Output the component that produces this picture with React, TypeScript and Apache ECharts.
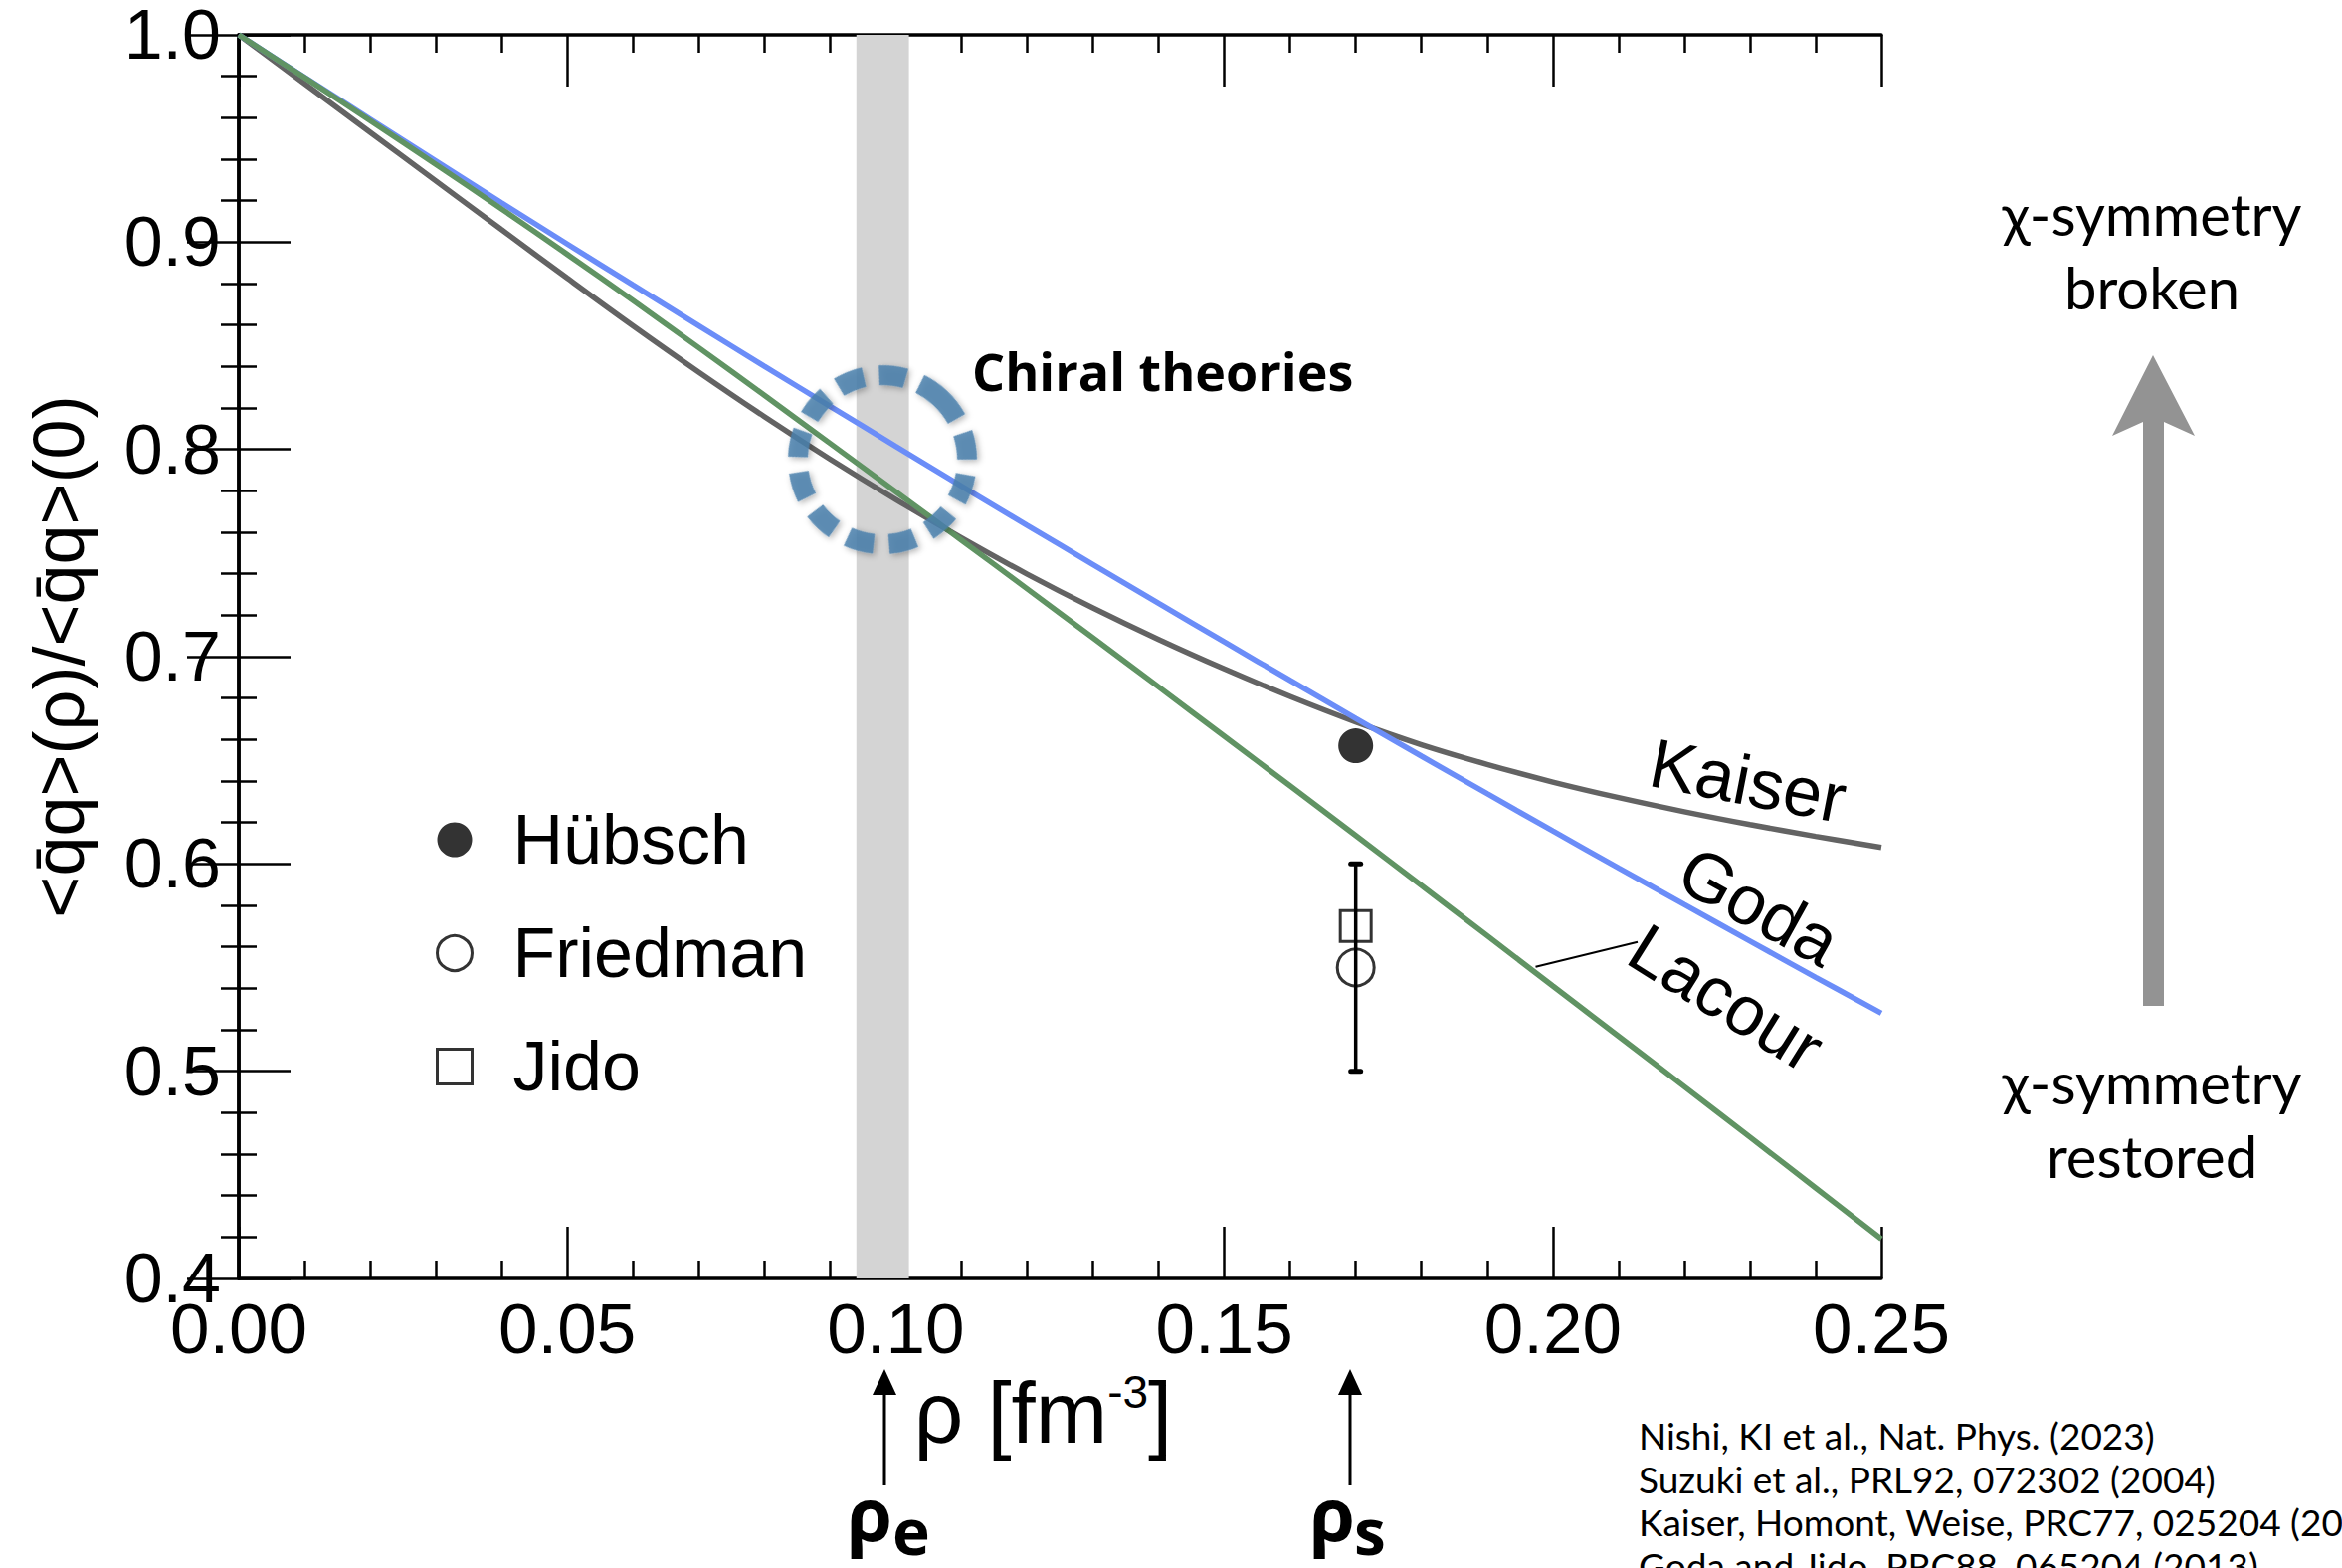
import React, { useEffect, useRef } from "react";
import * as echarts from "echarts";

// ---- data ----
const RHO = [0, 0.01, 0.02, 0.03, 0.04, 0.05, 0.06, 0.07, 0.08, 0.09, 0.1, 0.11, 0.12, 0.13, 0.14, 0.15, 0.16, 0.17, 0.18, 0.19, 0.2, 0.21, 0.22, 0.23, 0.24, 0.25];
const KAISER = [1.0, 0.9765, 0.953, 0.9295, 0.906, 0.8826, 0.8596, 0.8373, 0.8158, 0.7953, 0.7758, 0.7573, 0.7398, 0.7235, 0.7083, 0.6941, 0.6808, 0.6685, 0.6575, 0.648, 0.6395, 0.632, 0.6252, 0.619, 0.6133, 0.608];
const GODA = [1.0, 0.9796, 0.9593, 0.9391, 0.919, 0.8991, 0.8793, 0.8597, 0.8401, 0.8208, 0.8015, 0.7823, 0.7633, 0.7445, 0.7257, 0.7071, 0.6886, 0.6702, 0.652, 0.6339, 0.6159, 0.5981, 0.5804, 0.5628, 0.5453, 0.528];
const LACOUR = [1.0, 0.9794, 0.9586, 0.9375, 0.916, 0.8941, 0.8718, 0.8491, 0.8261, 0.8029, 0.7796, 0.7562, 0.7327, 0.7091, 0.6854, 0.6616, 0.6377, 0.6137, 0.5896, 0.5654, 0.5411, 0.5169, 0.4926, 0.4682, 0.4437, 0.4191];
const HUBSCH = [[0.17, 0.657]];
const FRIEDMAN = [[0.17, 0.55]];
const FRIEDMAN_ERR = [[0.17, 0.5, 0.6]];
const JIDO = [[0.17, 0.57]];
const BAND = [0.094, 0.102];
const X_TICK_DECIMALS = 2;
const Y_TICK_DECIMALS = 1;
const REFERENCES = [
  "Nishi, KI et al., Nat. Phys. (2023)",
  "Suzuki et al., PRL92, 072302 (2004)",
  "Kaiser, Homont, Weise, PRC77, 025204 (2008)",
  "Goda and Jido, PRC88, 065204 (2013)",
];

const FONT = "'Liberation Sans', Arial, Helvetica, sans-serif";
const GILL = "Lato, 'Open Sans', sans-serif";
const BOLD = "'Open Sans', 'Noto Sans', sans-serif";

const pairs = (ys: number[]) => RHO.map((x, i) => [x, ys[i]]);
const deg = (d: number) => (d * Math.PI) / 180;

function axisCommon(showLabel: boolean) {
  return {
    axisLine: { show: true, lineStyle: { color: "#000", width: 3.5 } },
    axisTick: { show: true, inside: true, length: 52, lineStyle: { color: "#000", width: 2.5 } },
    minorTick: { show: true, splitNumber: 5, length: 18, lineStyle: { color: "#000", width: 2.5 } },
    splitLine: { show: false },
    minorSplitLine: { show: false },
    axisLabel: { show: showLabel },
  };
}

const centered = { align: "center", verticalAlign: "middle", textAlign: "center", textVerticalAlign: "middle" };
const leftMid = { align: "left", verticalAlign: "middle", textAlign: "left", textVerticalAlign: "middle" };

export default function App() {
  const ref = useRef<HTMLDivElement>(null);
  useEffect(() => {
    document.body.style.margin = "0";
    const chart = echarts.init(ref.current!, null, { renderer: "svg" });
    const xBase = { type: "value", min: 0, max: 0.25, interval: 0.05 };
    const yBase = { type: "value", min: 0.4, max: 1.0, interval: 0.1 };
    const option: any = {
      animation: false,
      backgroundColor: "#fff",
      textStyle: { fontFamily: FONT },
      grid: { left: 240, top: 35, width: 1651, height: 1250 },
      legend: {
        orient: "vertical",
        left: 433,
        top: 799,
        itemWidth: 35,
        itemHeight: 35,
        itemGap: 34,
        selectedMode: false,
        textStyle: { fontSize: 70, color: "#000", fontFamily: FONT, lineHeight: 80, padding: [0, 0, 0, 36] },
        data: [
          { name: "Hübsch", icon: "circle", itemStyle: { color: "#000", borderWidth: 0 } },
          { name: "Friedman", icon: "circle", itemStyle: { color: "#fff", borderColor: "#000", borderWidth: 3 } },
          { name: "Jido", icon: "rect", itemStyle: { color: "#fff", borderColor: "#000", borderWidth: 3 } },
        ],
      },
      xAxis: [
        {
          ...xBase,
          ...axisCommon(true),
          position: "bottom",
          axisLabel: {
            show: true,
            fontSize: 71,
            color: "#000",
            fontFamily: FONT,
            margin: 15,
            formatter: (v: number) => v.toFixed(X_TICK_DECIMALS),
          },
          name: "{a|\u03c1 [fm}{s|-3}{a|]}",
          nameLocation: "middle",
          nameGap: 78,
          nameTextStyle: {
            padding: [0, 34, 0, 0],
            rich: {
              a: { fontSize: 87, fontFamily: FONT, color: "#000", lineHeight: 87 },
              s: { fontSize: 46, fontFamily: FONT, color: "#000", verticalAlign: "top", lineHeight: 46 },
            },
          },
        },
        { ...xBase, ...axisCommon(false), position: "top" },
      ],
      yAxis: [
        {
          ...yBase,
          ...axisCommon(true),
          position: "left",
          axisLabel: {
            show: true,
            fontSize: 70,
            color: "#000",
            fontFamily: FONT,
            margin: 18,
            formatter: (v: number) => v.toFixed(Y_TICK_DECIMALS),
          },
          name: "<q\u0304q>(\u03c1)/<q\u0304q>(0)",
          nameLocation: "middle",
          nameGap: 145,
          nameTextStyle: { fontSize: 72, color: "#000", fontFamily: FONT },
        },
        { ...yBase, ...axisCommon(false), position: "right" },
      ],
      series: [
        {
          type: "line",
          name: "band",
          data: [],
          z: 1,
          markArea: {
            silent: true,
            itemStyle: { color: "#d4d4d4" },
            data: [[{ xAxis: BAND[0] }, { xAxis: BAND[1] }]],
          },
        },
        {
          type: "line", name: "Kaiser", data: pairs(KAISER), smooth: 0.4, showSymbol: false, z: 3,
          lineStyle: { color: "#636363", width: 5.5 },
        },
        {
          type: "line", name: "Goda", data: pairs(GODA), smooth: 0.4, showSymbol: false, z: 3,
          lineStyle: { color: "#6b8df8", width: 5.5 },
        },
        {
          type: "line", name: "Lacour", data: pairs(LACOUR), smooth: 0.4, showSymbol: false, z: 3,
          lineStyle: { color: "#609363", width: 5.5 },
        },
        {
          type: "custom",
          name: "err",
          data: FRIEDMAN_ERR,
          encode: { x: 0, y: [1, 2] },
          z: 4,
          renderItem: (params: any, api: any) => {
            const x = api.value(0);
            const lo = api.coord([x, api.value(1)]);
            const hi = api.coord([x, api.value(2)]);
            const st = { stroke: "#000", lineWidth: 3.5 };
            const cap = { stroke: "#000", lineWidth: 5, lineCap: "round" };
            return {
              type: "group",
              children: [
                { type: "line", shape: { x1: lo[0], y1: lo[1], x2: hi[0], y2: hi[1] }, style: st },
                { type: "line", shape: { x1: lo[0] - 5, y1: lo[1], x2: lo[0] + 5, y2: lo[1] }, style: cap },
                { type: "line", shape: { x1: hi[0] - 5, y1: hi[1], x2: hi[0] + 5, y2: hi[1] }, style: cap },
              ],
            };
          },
        },
        {
          type: "scatter", name: "Hübsch", data: HUBSCH, symbol: "circle", symbolSize: 35, z: 5,
          itemStyle: { color: "#000" },
        },
        {
          type: "scatter", name: "Friedman", data: FRIEDMAN, symbol: "circle", symbolSize: 37, z: 5,
          itemStyle: { color: "rgba(255,255,255,0)", borderColor: "#000", borderWidth: 3 },
        },
        {
          type: "scatter", name: "Jido", data: JIDO, symbol: "rect", symbolSize: 31, z: 5,
          itemStyle: { color: "rgba(255,255,255,0)", borderColor: "#000", borderWidth: 3 },
        },
      ],
      graphic: [
        // dashed "chiral theories" circle
        {
          type: "circle",
          x: 887,
          y: 462,
          rotation: deg(47),
          shape: { cx: 0, cy: 0, r: 85 },
          style: {
            fill: "none",
            stroke: "#4a80ad",
            lineWidth: 20,
            lineDash: [27, 15.4],
            opacity: 0.85,
            shadowBlur: 6,
            shadowOffsetY: 3,
            shadowColor: "rgba(0,0,0,0.35)",
          },
          z: 10,
        },
        {
          type: "text",
          x: 977,
          y: 372,
          style: { text: "Chiral theories", fontSize: 52, fontWeight: "bold", fontFamily: BOLD, fill: "#000", ...leftMid },
        },
        // curve labels
        { type: "text", x: 1757, y: 785, rotation: deg(-11), style: { text: "Kaiser", fontSize: 70, fontFamily: FONT, fill: "#000", ...centered } },
        { type: "text", x: 1768, y: 911, rotation: deg(-29), style: { text: "Goda", fontSize: 70, fontFamily: FONT, fill: "#000", ...centered } },
        { type: "text", x: 1735, y: 1003, rotation: deg(-32), style: { text: "Lacour", fontSize: 70, fontFamily: FONT, fill: "#000", ...centered } },
        {
          type: "line",
          shape: { x1: 1543.5, y1: 971.7, x2: 1646, y2: 946.7 },
          style: { stroke: "#000", lineWidth: 2 },
        },
        // arrows under the x axis
        { type: "line", shape: { x1: 889, y1: 1398, x2: 889, y2: 1493 }, style: { stroke: "#000", lineWidth: 3 } },
        { type: "polygon", shape: { points: [[889, 1376], [877, 1402], [901, 1402]] }, style: { fill: "#000" } },
        { type: "line", shape: { x1: 1357, y1: 1398, x2: 1357, y2: 1493 }, style: { stroke: "#000", lineWidth: 3 } },
        { type: "polygon", shape: { points: [[1357, 1376], [1345, 1402], [1369, 1402]] }, style: { fill: "#000" } },
        { type: "text", x: 874, y: 1520, style: { text: "\u03c1", fontSize: 74, fontWeight: "bold", fontFamily: BOLD, fill: "#000", ...centered } },
        { type: "text", x: 897, y: 1538, style: { text: "e", fontSize: 64, fontWeight: "bold", fontFamily: BOLD, fill: "#000", ...leftMid } },
        { type: "text", x: 1339, y: 1520, style: { text: "\u03c1", fontSize: 74, fontWeight: "bold", fontFamily: BOLD, fill: "#000", ...centered } },
        { type: "text", x: 1361, y: 1538, style: { text: "s", fontSize: 64, fontWeight: "bold", fontFamily: BOLD, fill: "#000", ...leftMid } },
        // right side: symmetry arrow
        {
          type: "polygon",
          shape: { points: [[2164, 357], [2206, 438], [2175, 424], [2175, 1011], [2154, 1011], [2154, 424], [2123, 438]] },
          style: { fill: "#939393" },
        },
        {
          type: "text", x: 2163, y: 177,
          style: { text: "\u03c7-symmetry\nbroken", fontSize: 58, lineHeight: 74, fontFamily: GILL, fill: "#000", align: "center", verticalAlign: "top", textAlign: "center", textVerticalAlign: "top" },
        },
        {
          type: "text", x: 2163, y: 1050,
          style: { text: "\u03c7-symmetry\nrestored", fontSize: 58, lineHeight: 74, fontFamily: GILL, fill: "#000", align: "center", verticalAlign: "top", textAlign: "center", textVerticalAlign: "top" },
        },
        // references
        {
          type: "text", x: 1647, y: 1421,
          style: { text: REFERENCES.join("\n"), fontSize: 37, lineHeight: 43.5, fontFamily: GILL, fill: "#000", align: "left", verticalAlign: "top", textAlign: "left", textVerticalAlign: "top" },
        },
      ],
    };
    chart.setOption(option);
    return () => chart.dispose();
  }, []);
  return <div ref={ref} style={{ width: 2354, height: 1576 }} />;
}
